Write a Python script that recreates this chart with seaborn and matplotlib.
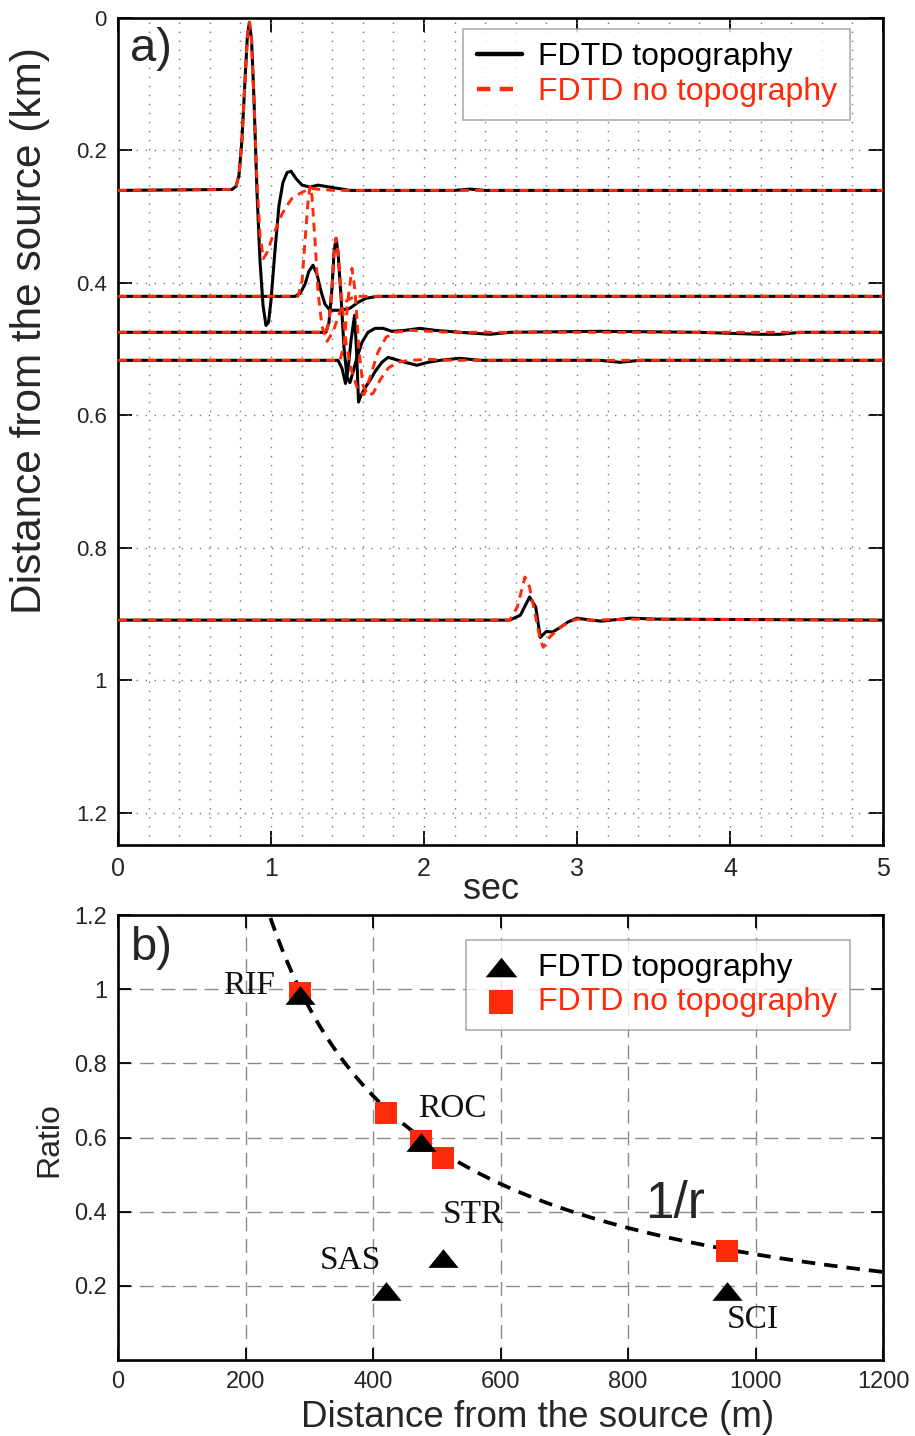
import numpy as np
import pandas as pd
import matplotlib
matplotlib.use("Agg")
import matplotlib.pyplot as plt
import seaborn as sns
from matplotlib.path import Path
from matplotlib.ticker import MultipleLocator, FixedLocator

# ---------------- data: panel a (seismograms) ----------------
# baseline distance of each trace (km); amplitudes in metres of the distance axis (positive = up)
TRACE_DIST_KM = [0.2604, 0.4204, 0.4747, 0.5170, 0.9094]

T_RIF_TOPO = [0, 0.745, 0.771, 0.791, 0.810, 0.830, 0.846, 0.859, 0.873, 0.889, 0.908, 0.928, 0.948, 0.967,
              0.984, 1.000, 1.026, 1.052, 1.078, 1.105, 1.131, 1.163, 1.203, 1.255, 1.307, 1.359, 1.438,
              1.516, 2.20, 2.30, 2.40, 5.0]
A_RIF_TOPO = [0, 1.5, 6, 23, 76, 166, 234, 254, 227, 136, 0, -106, -174, -204, -199, -166, -91, -23, 12, 27,
              29, 18, 8, 5, 8, 6, 3, 0, 0, 2, 0, 0]
T_RIF_FLAT = [0, 0.745, 0.771, 0.791, 0.810, 0.830, 0.846, 0.859, 0.873, 0.889, 0.908, 0.928, 0.950, 0.974,
              1.007, 1.059, 1.092, 1.137, 1.190, 1.229, 1.268, 1.320, 1.418, 5.0]
A_RIF_FLAT = [0, 1.5, 6, 23, 76, 166, 234, 254, 227, 136, 15, -68, -103, -94, -72, -42, -27, -12, -4.5, 0,
              3, 1.5, 0, 0]

T_SAS_TOPO = [0, 1.157, 1.190, 1.222, 1.248, 1.275, 1.301, 1.327, 1.353, 1.386, 1.451, 1.516, 1.569, 1.621,
              1.693, 5.0]
A_SAS_TOPO = [0, 0, 4.5, 18, 38, 47, 33, 7.5, -12, -21, -21, -18, -9, -3, 0, 0]
T_SAS_FLAT = [0, 1.176, 1.203, 1.222, 1.242, 1.255, 1.268, 1.288, 1.307, 1.333, 1.366, 1.405, 1.451, 1.497,
              1.549, 5.0]
A_SAS_FLAT = [0, 0, 23, 83, 143, 166, 151, 83, 7.5, -45, -68, -54, -23, -6, 0, 0]

T_ROC_TOPO = [0, 1.359, 1.379, 1.399, 1.412, 1.425, 1.438, 1.458, 1.477, 1.497, 1.516, 1.536, 1.562, 1.595,
              1.634, 1.680, 1.732, 1.791, 1.876, 1.974, 2.072, 2.235, 2.431, 2.562, 3.15, 3.80, 4.196,
              4.327, 4.458, 5.0]
A_ROC_TOPO = [0, 0, 15, 68, 121, 142, 121, 53, -23, -68, -76, -60, -38, -15, 0, 6, 6, 1.5, 3, 6, 3, 0, -3,
              0, 1.5, 0, -3, -3, 0, 0]
T_ROC_FLAT = [0, 1.359, 1.379, 1.399, 1.412, 1.425, 1.438, 1.458, 1.490, 1.529, 1.569, 1.608, 1.647, 1.699,
              1.752, 1.810, 1.908, 2.039, 2.17, 5.0]
A_ROC_FLAT = [0, 0, 15, 68, 121, 142, 121, 60, -15, -60, -88, -94, -68, -30, -7.5, 0, 3, 1.5, 0, 0]

T_STR_TOPO = [0, 1.438, 1.464, 1.487, 1.503, 1.523, 1.546, 1.559, 1.572, 1.588, 1.614, 1.647, 1.686, 1.725,
              1.765, 1.810, 1.876, 1.954, 2.026, 2.105, 2.235, 2.366, 3.15, 3.281, 3.41, 5.0]
A_STR_TOPO = [0, 0, -12, -35, -15, 30, 68, 15, -63, -53, -42, -30, -15, -3, 4.5, 1.5, -3, -7.5, -3, 0, 3, 0,
              0, -3, 0, 0]
T_STR_FLAT = [0, 1.451, 1.477, 1.503, 1.529, 1.549, 1.575, 1.601, 1.634, 1.667, 1.712, 1.765, 1.824, 1.908,
              2.04, 2.17, 5.0]
A_STR_FLAT = [0, 0, 23, 91, 139, 106, 15, -38, -53, -50, -30, -12, -3, 0, 1.5, 0, 0]

T_SCI_TOPO = [0, 2.56, 2.63, 2.69, 2.73, 2.76, 2.80, 2.84, 2.89, 2.94, 3.00, 3.09, 3.16, 3.35, 3.52, 5.0]
A_SCI_TOPO = [0, 0, 7.5, 35, 20, -26, -17, -18, -11, -3, 3, 0, -1.5, 3, 1.5, 0]
T_SCI_FLAT = [0, 2.56, 2.61, 2.66, 2.69, 2.73, 2.76, 2.78, 2.82, 2.89, 2.95, 3.00, 3.09, 3.35, 5.0]
A_SCI_FLAT = [0, 0, 20, 65, 50, 4.5, -30, -41, -26, -11, -3, 1.5, 0, 1.5, 0]

TOPO_TRACES = [(T_RIF_TOPO, A_RIF_TOPO), (T_SAS_TOPO, A_SAS_TOPO), (T_ROC_TOPO, A_ROC_TOPO),
               (T_STR_TOPO, A_STR_TOPO), (T_SCI_TOPO, A_SCI_TOPO)]
FLAT_TRACES = [(T_RIF_FLAT, A_RIF_FLAT), (T_SAS_FLAT, A_SAS_FLAT), (T_ROC_FLAT, A_ROC_FLAT),
               (T_STR_FLAT, A_STR_FLAT), (T_SCI_FLAT, A_SCI_FLAT)]

A_YTICKS = [0, 0.2, 0.4, 0.6, 0.8, 1.0, 1.2]
A_YTICKLABELS = ["0", "0.2", "0.4", "0.6", "0.8", "1", "1.2"]
A_XTICKS = [0, 1, 2, 3, 4, 5]

# ---------------- data: panel b (amplitude ratios) ----------------
STATIONS = ["RIF", "SAS", "ROC", "STR", "SCI"]
STATION_DIST_M = [285, 420, 475, 510, 955]
RATIO_TOPO = [0.985, 0.186, 0.589, 0.275, 0.186]
RATIO_FLAT = [0.99, 0.667, 0.59, 0.546, 0.294]
LABEL_X = [205, 364, 525, 558, 995]
LABEL_Y = [1.008, 0.267, 0.678, 0.391, 0.109]
R0_M = 285  # reference distance of the 1/r curve
B_XTICKS = [0, 200, 400, 600, 800, 1000, 1200]
B_YTICKS = [0.2, 0.4, 0.6, 0.8, 1.0, 1.2]
B_YTICKLABELS = ["0.2", "0.4", "0.6", "0.8", "1", "1.2"]

RED = "#ff2a0a"
SANS = ["Liberation Sans", "DejaVu Sans"]
SERIF = ["Liberation Serif", "DejaVu Serif"]

sns.set_theme(style="white")
plt.rcParams["font.family"] = SANS

fig = plt.figure(figsize=(9.15, 14.36), dpi=100)
W, H = 915, 1436
ax1 = fig.add_axes([118 / W, 1 - 845 / H, 765 / W, 827 / H])
ax2 = fig.add_axes([118 / W, 1 - 1360 / H, 765 / W, 445 / H])

# ---------------- panel a ----------------
for i, (t, a) in enumerate(TOPO_TRACES):
    d = TRACE_DIST_KM[i] - np.asarray(a) / 1000.0
    sns.lineplot(x=t, y=d, ax=ax1, color="black", lw=2.2, sort=False, estimator=None,
                 label="FDTD topography" if i == 0 else None, zorder=3)
for i, (t, a) in enumerate(FLAT_TRACES):
    d = TRACE_DIST_KM[i] - np.asarray(a) / 1000.0
    sns.lineplot(x=t, y=d, ax=ax1, color=RED, lw=2.1, sort=False, estimator=None,
                 linestyle=(0, (3.0, 2.1)),
                 label="FDTD no topography" if i == 0 else None, zorder=4)

ax1.set_xlim(0, 5)
ax1.set_ylim(1.249, 0)
ax1.xaxis.set_major_locator(FixedLocator(A_XTICKS))
ax1.xaxis.set_minor_locator(MultipleLocator(0.2))
ax1.yaxis.set_major_locator(FixedLocator(A_YTICKS))
ax1.set_yticklabels(A_YTICKLABELS)
ax1.set_xticklabels([str(v) for v in A_XTICKS])
ax1.grid(False)
for v in np.arange(0.2, 5.0, 0.2):
    ax1.axvline(v, color="#777777", lw=1.0, linestyle=(0, (1, 5.5)), zorder=1)
for v in A_YTICKS[1:]:
    ax1.axhline(v, color="#777777", lw=1.0, linestyle=(0, (1, 5.5)), zorder=1)
ax1.tick_params(axis="both", which="major", direction="in", length=10, width=1.3,
                top=True, right=True, bottom=True, left=True, color="black")
ax1.tick_params(axis="both", which="minor", length=0)
ax1.tick_params(axis="y", labelsize=16, pad=8)
ax1.tick_params(axis="x", labelsize=18, pad=9)
for s in ax1.spines.values():
    s.set_linewidth(1.9)
    s.set_color("black")
ax1.set_xlabel("sec", fontsize=26, va="center")
ax1.xaxis.set_label_coords(0.488, -0.054)
ax1.set_ylabel("Distance from the source (km)", fontsize=30.5, va="center")
ax1.yaxis.set_label_coords(-0.115, 0.622)
ax1.text(0.016, 0.963, "a)", transform=ax1.transAxes, fontsize=34, ha="left", va="center")
leg1 = ax1.legend(loc="upper right", bbox_to_anchor=(0.957, 0.987), borderaxespad=0,
                  fontsize=23, frameon=True, fancybox=False, edgecolor="#999999",
                  handlelength=1.4, handletextpad=0.5, borderpad=0.42, labelspacing=0.15,
                  labelcolor="linecolor")
leg1.get_frame().set_linewidth(1.2)
for ln in leg1.get_lines():
    ln.set_linewidth(3.2)

# ---------------- panel b ----------------
r = np.linspace(200, 1200, 400)
sns.lineplot(x=r, y=R0_M / r, ax=ax2, color="black", lw=2.7, linestyle=(0, (3.6, 2.4)),
             sort=False, estimator=None, zorder=3)
tri = Path([(-1, -0.62), (1, -0.62), (0, 0.62), (-1, -0.62)],
           [Path.MOVETO, Path.LINETO, Path.LINETO, Path.CLOSEPOLY])
df = pd.DataFrame({"dist": STATION_DIST_M, "topo": RATIO_TOPO, "flat": RATIO_FLAT})
sns.scatterplot(data=df, x="dist", y="flat", ax=ax2, marker="s", s=270, color=RED,
                edgecolor=RED, linewidth=0, zorder=4, label="FDTD no topography")
sns.scatterplot(data=df, x="dist", y="topo", ax=ax2, marker=tri, s=470, color="black",
                edgecolor="black", linewidth=0, zorder=5, label="FDTD topography")
for name, x, y in zip(STATIONS, LABEL_X, LABEL_Y):
    ax2.text(x, y, name, fontsize=24, family=SERIF, ha="center", va="center", color="#111111", zorder=6)
ax2.text(874, 0.418, "1/r", fontsize=37, ha="center", va="center", zorder=6)
ax2.text(0.016, 0.925, "b)", transform=ax2.transAxes, fontsize=34, ha="left", va="center")

ax2.set_xlim(0, 1200)
ax2.set_ylim(0, 1.2)
ax2.xaxis.set_major_locator(FixedLocator(B_XTICKS))
ax2.yaxis.set_major_locator(FixedLocator(B_YTICKS))
ax2.set_yticklabels(B_YTICKLABELS)
ax2.set_xticklabels([str(v) for v in B_XTICKS])
ax2.grid(True, color="#8a8a8a", lw=1.0, linestyle=(0, (10, 5.5)))
ax2.set_axisbelow(True)
ax2.tick_params(axis="both", direction="in", length=9, width=1.3, top=True, right=True,
                bottom=True, left=True, color="black", labelsize=17, pad=8)
for s in ax2.spines.values():
    s.set_linewidth(1.9)
    s.set_color("black")
ax2.set_xlabel("Distance from the source (m)", fontsize=26.5, va="center")
ax2.xaxis.set_label_coords(0.548, -0.13)
ax2.set_ylabel("Ratio", fontsize=23, va="center")
ax2.yaxis.set_label_coords(-0.09, 0.496)
h, l = ax2.get_legend_handles_labels()
order = [l.index("FDTD topography"), l.index("FDTD no topography")]
leg2 = ax2.legend([h[k] for k in order], [l[k] for k in order], loc="upper right",
                  bbox_to_anchor=(0.957, 0.944), borderaxespad=0, fontsize=23, frameon=True,
                  fancybox=False, edgecolor="#999999", handlelength=1.4, handletextpad=0.47,
                  borderpad=0.4, labelspacing=0.15, markerscale=1.05)
leg2.get_frame().set_linewidth(1.2)
for txt, c in zip(leg2.get_texts(), ["black", RED]):
    txt.set_color(c)

fig.savefig("out.png", dpi=100)
